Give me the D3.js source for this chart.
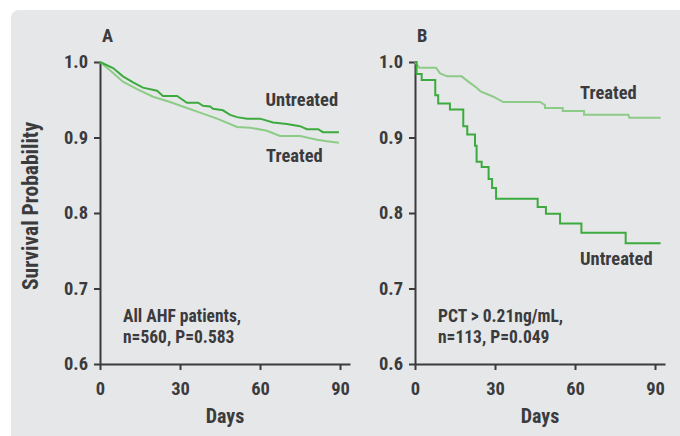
<!DOCTYPE html>
<html>
<head>
<meta charset="utf-8">
<script src="https://cdn.jsdelivr.net/npm/d3@7"></script>
<style>
  body { margin: 0; background: #fff; }
  text { font-family: "Roboto Condensed", Roboto, sans-serif; font-weight: 700; fill: #3b3b3d; }
</style>
</head>
<body>
<div id="chart"></div>
<script>
// tick values
const dayTicks = [0, 30, 60, 90];
const survTicks = [0.6, 0.7, 0.8, 0.9, 1.0];

// panel A: all AHF patients, [day, survival]
const aUntreated = [[0,1.0],[4.9,0.992],[8.6,0.981],[12.4,0.973],[16.1,0.966],[21.4,0.962],[23.6,0.955],
  [28.9,0.955],[32.6,0.946],[36.8,0.946],[38.6,0.942],[41.3,0.941],[42.4,0.938],[46.1,0.936],[48.8,0.930],
  [51.4,0.927],[55.1,0.925],[60,0.925],[64.9,0.920],[70.1,0.918],[75,0.915],[77.6,0.911],[81.8,0.911],
  [83.6,0.907],[89.6,0.907]];
const aTreated = [[0,1.0],[3.75,0.989],[8.6,0.974],[13.9,0.964],[19.9,0.954],[26.3,0.947],[32.6,0.939],
  [37.5,0.933],[43.9,0.925],[51.4,0.914],[56.3,0.913],[62.6,0.909],[67.5,0.902],[75,0.902],[81.4,0.897],
  [85.1,0.895],[89.6,0.893]];

// panel B: PCT > 0.21ng/mL
const bUntreated = [[0,1.0],[0.6,0.984],[2.5,0.976],[7.6,0.956],[8.7,0.945],[13.1,0.937],[18.1,0.915],
  [19.6,0.904],[22.5,0.889],[23.1,0.868],[25,0.861],[27.6,0.845],[28.9,0.833],[30.4,0.819],[46,0.808],
  [49.1,0.799],[54.4,0.786],[62.4,0.774],[79,0.760],[92.1,0.760]];
const bTreated = [[0,1.0],[1.6,0.9925],[7.9,0.9925],[9.4,0.985],[12.1,0.981],[17.5,0.981],[20,0.974],
  [23.1,0.966],[24.6,0.961],[29.4,0.954],[33.1,0.947],[46.9,0.947],[48.75,0.943],[48.75,0.939],[55.4,0.939],
  [55.4,0.935],[63.4,0.935],[63.4,0.930],[80,0.930],[80.4,0.926],[92.1,0.926]];

const darkGreen = "#3daa3f", lightGreen = "#8dcc87", ink = "#3b3b3d";

const svg = d3.select("#chart")
  .append("svg")
    .attr("width", 680)
    .attr("height", 436);

// grey card behind both plots
svg.append("rect")
  .attr("x", 11).attr("y", 10)
  .attr("width", 720).attr("height", 460)
  .attr("rx", 8)
  .attr("fill", "#e6e7e9");

const y = d3.scaleLinear().domain([0.6, 1.0]).range([364, 62]);

const panels = [
  { left: 100, letter: "A", untreated: aUntreated, treated: aTreated, stepU: false,
    note: ["All AHF patients,", "n=560, P=0.583"],
    uLabel: [165.5, 105.7], tLabel: [166, 161.5] },
  { left: 415, letter: "B", untreated: bUntreated, treated: bTreated, stepU: true,
    note: ["PCT > 0.21ng/mL,", "n=113, P=0.049"],
    uLabel: [165, 264.5], tLabel: [165, 98.5] }
];

panels.forEach(function(p) {
  const g = svg.append("g").attr("transform", `translate(${p.left},0)`);

  const x = d3.scaleLinear().domain([0, 93.75]).range([0, 250]);

  // X axis
  const xAxis = g.append("g")
    .attr("transform", `translate(0,${y(0.6)})`)
    .call(d3.axisBottom(x).tickValues(dayTicks).tickSize(6).tickSizeOuter(0).tickPadding(12));
  // Y axis
  const yAxis = g.append("g")
    .call(d3.axisLeft(y).tickValues(survTicks).tickSize(6).tickSizeOuter(0).tickPadding(6)
      .tickFormat(d3.format(".1f")));

  [xAxis, yAxis].forEach(function(ax) {
    ax.selectAll("path, line").attr("stroke", ink).attr("stroke-width", 2);
    ax.selectAll("text").attr("fill", ink).style("font-size", "18.5px")
      .style("font-family", null);
  });

  const line = d3.line()
    .x(d => x(d[0]))
    .y(d => y(d[1]));

  g.append("path")
    .datum(p.treated)
    .attr("fill", "none")
    .attr("stroke", lightGreen)
    .attr("stroke-width", 2)
    .attr("d", line);

  g.append("path")
    .datum(p.untreated)
    .attr("fill", "none")
    .attr("stroke", darkGreen)
    .attr("stroke-width", 2)
    .attr("d", p.stepU ? line.curve(d3.curveStepAfter) : line);

  // panel letter
  g.append("text").attr("x", 2).attr("y", 41.7)
    .style("font-size", "18.5px").text(p.letter);

  // curve labels
  g.append("text").attr("x", p.uLabel[0]).attr("y", p.uLabel[1])
    .style("font-size", "18.5px").text("Untreated");
  g.append("text").attr("x", p.tLabel[0]).attr("y", p.tLabel[1])
    .style("font-size", "18.5px").text("Treated");

  // cohort note
  g.append("text").attr("x", 23).attr("y", 321.7)
    .style("font-size", "17.5px").text(p.note[0]);
  g.append("text").attr("x", 23).attr("y", 343.3)
    .style("font-size", "17.5px").text(p.note[1]);

  // x title
  g.append("text").attr("x", 125).attr("y", 423)
    .attr("text-anchor", "middle")
    .style("font-size", "20px").text("Days");
});

// y title
svg.append("text")
  .attr("transform", "translate(38,206) rotate(-90)")
  .attr("text-anchor", "middle")
  .style("font-size", "21.5px")
  .text("Survival Probability");
</script>
</body>
</html>
